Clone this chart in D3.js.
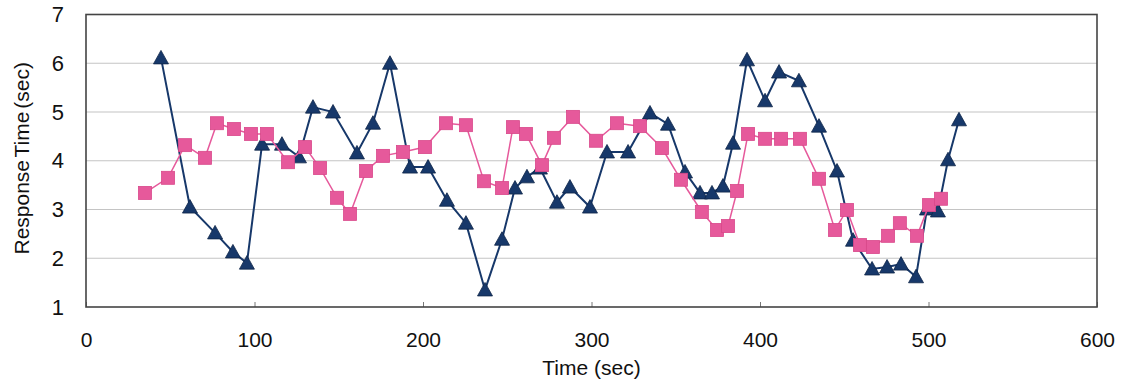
<!DOCTYPE html>
<html>
<head>
<meta charset="utf-8">
<script src="https://cdn.jsdelivr.net/npm/d3@7"></script>
<style>
  body { margin: 0; background: #fff; }
  svg text { font-family: "Liberation Sans", Arial, sans-serif; fill: #111; }
  .axis path { display: none; }
  .axis line { stroke: #777; }
</style>
</head>
<body>
<svg id="chart" width="1124" height="379"></svg>
<script>
// series: time (sec) and response time (sec)
var squareTime = [35, 48.7, 58.8, 70.6, 77.7, 87.8, 97.9, 107.4, 119.9, 130, 138.9, 149, 156.7, 166.2, 176.3,
  188.1, 201.2, 213.6, 225.5, 236.2, 246.9, 253.4, 261.1, 270.6, 277.7, 289, 302.7, 315.1, 328.8, 341.8,
  353.1, 365.5, 374.5, 381, 386.4, 392.9, 403, 412.5, 423.7, 435, 444.5, 451.6, 459.3, 467, 476, 483,
  493.2, 500.3, 507.4];
var squareResp = [3.34, 3.65, 4.32, 4.06, 4.77, 4.65, 4.55, 4.55, 3.97, 4.28, 3.85, 3.24, 2.91, 3.79, 4.10,
  4.18, 4.28, 4.77, 4.73, 3.58, 3.44, 4.69, 4.55, 3.91, 4.47, 4.90, 4.41, 4.77, 4.71, 4.26,
  3.61, 2.95, 2.58, 2.66, 3.38, 4.55, 4.45, 4.45, 4.45, 3.63, 2.58, 2.99, 2.27, 2.23, 2.46, 2.72,
  2.46, 3.09, 3.22];

var triTime = [44.5, 61.7, 76.6, 87.2, 95.5, 104.5, 116.3, 126.4, 134.7, 146.6, 160.8, 170.3, 180.4, 192.3,
  203, 214.2, 225.5, 236.8, 246.9, 254.6, 261.7, 269.4, 279.5, 287.2, 299.1, 309.2, 321.7, 334.7,
  345.4, 355.5, 364.4, 371.5, 378, 384, 392.3, 403, 411.3, 423.1, 435, 445.7, 455.2, 466.5, 475.4,
  483.7, 492.6, 499.1, 505.6, 511.6, 518.1];
var triResp = [6.11, 3.05, 2.52, 2.13, 1.90, 4.34, 4.34, 4.08, 5.10, 5.0, 4.16, 4.77, 6.0, 3.87,
  3.87, 3.19, 2.72, 1.35, 2.39, 3.44, 3.67, 3.85, 3.15, 3.46, 3.05, 4.18, 4.18, 4.98,
  4.75, 3.77, 3.34, 3.34, 3.48, 4.36, 6.07, 5.23, 5.82, 5.64, 4.71, 3.79, 2.37, 1.78, 1.82,
  1.88, 1.62, 3.01, 2.97, 4.02, 4.84];

var xTicks = [0, 100, 200, 300, 400, 500, 600];
var yTicks = [1, 2, 3, 4, 5, 6, 7];

var margin = {top: 14.5, right: 27, bottom: 72, left: 86},
    width = 1124 - margin.left - margin.right,
    height = 379 - margin.top - margin.bottom;

var navy = "#17386a", pink = "#e6599b";

var svg = d3.select("#chart");
var g = svg.append("g")
    .attr("transform", "translate(" + margin.left + "," + margin.top + ")");

var x = d3.scaleLinear().domain([0, 600]).range([0, width]);
var y = d3.scaleLinear().domain([1, 7]).range([height, 0]);

// horizontal grid
g.selectAll(".grid")
    .data(yTicks.filter(function(d) { return d > 1 && d < 7; }))
  .enter().append("line")
    .attr("class", "grid")
    .attr("x1", 0).attr("x2", width)
    .attr("y1", function(d) { return y(d); })
    .attr("y2", function(d) { return y(d); })
    .style("stroke", "#c4c4c4")
    .style("stroke-width", 1.2);

var xAxis = d3.axisBottom(x).tickValues(xTicks).tickFormat(d3.format("d"))
    .tickSize(-5).tickPadding(25);
g.append("g")
    .attr("class", "x axis")
    .attr("transform", "translate(0," + height + ")")
    .call(xAxis)
    .selectAll("text").style("font-size", "21px");

var yAxis = d3.axisLeft(y).tickValues(yTicks).tickFormat(d3.format("d"))
    .tickSize(0).tickPadding(22);
g.append("g")
    .attr("class", "y axis")
    .call(yAxis)
    .selectAll("text").style("font-size", "22px");

// plot frame
g.append("rect")
    .attr("width", width)
    .attr("height", height)
    .style("fill", "none")
    .style("stroke", "#444")
    .style("stroke-width", 1.6);

svg.append("text")
    .attr("x", margin.left + x(300))
    .attr("y", 375)
    .attr("text-anchor", "middle")
    .style("font-size", "21px")
    .text("Time (sec)");

svg.append("text")
    .attr("transform", "translate(29," + (margin.top + y(4.05)) + ")rotate(-90)")
    .attr("text-anchor", "middle")
    .style("font-size", "21px")
    .style("word-spacing", "-3px")
    .text("Response Time (sec)");

var triData = triTime.map(function(t, i) { return {t: t, v: triResp[i]}; });
var sqData = squareTime.map(function(t, i) { return {t: t, v: squareResp[i]}; });

var line = d3.line()
    .x(function(d) { return x(d.t); })
    .y(function(d) { return y(d.v); });

// navy triangle series
g.append("path")
    .datum(triData)
    .attr("d", line)
    .style("fill", "none")
    .style("stroke", navy)
    .style("stroke-width", 2);

g.selectAll(".tri")
    .data(triData)
  .enter().append("path")
    .attr("class", "tri")
    .attr("transform", function(d) { return "translate(" + x(d.t) + "," + y(d.v) + ")"; })
    .attr("d", "M0,-7.5L7.5,6L-7.5,6Z")
    .style("fill", navy)
    .style("stroke", "#0e2548")
    .style("stroke-width", 0.8);

// pink square series
g.append("path")
    .datum(sqData)
    .attr("d", line)
    .style("fill", "none")
    .style("stroke", pink)
    .style("stroke-width", 1.5);

g.selectAll(".sq")
    .data(sqData)
  .enter().append("rect")
    .attr("class", "sq")
    .attr("x", function(d) { return x(d.t) - 6.5; })
    .attr("y", function(d) { return y(d.v) - 6.5; })
    .attr("width", 13)
    .attr("height", 13)
    .style("fill", pink)
    .style("stroke", "#d9488a")
    .style("stroke-width", 0.8);
</script>
</body>
</html>
